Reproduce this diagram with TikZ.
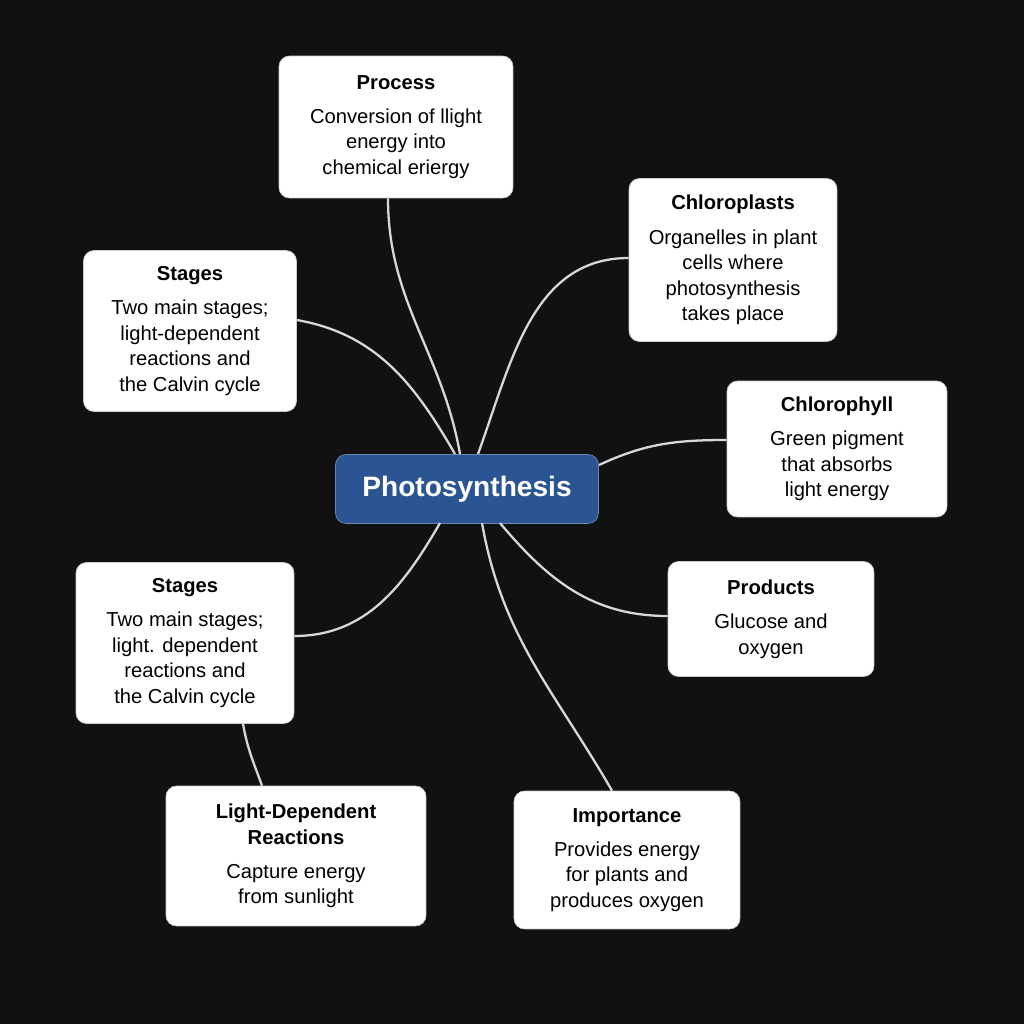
\documentclass[tikz,border=0pt]{standalone}
\usepackage{fontspec}
\setmainfont{Liberation Sans}
\usetikzlibrary{positioning}
\definecolor{bgdark}{HTML}{111111}
\definecolor{hubblue}{HTML}{2B5592}
\definecolor{linkgray}{HTML}{D8D8D8}

\begin{document}
\begin{tikzpicture}[
    x=0.02cm, y=-0.02cm,
    every node/.style={font=\fontsize{11.5}{14.5}\selectfont},
    topic/.style={rectangle, draw=gray!40, rounded corners=6pt, fill=white, align=center, inner sep=4pt},
    hub/.style={rectangle, draw=hubblue!70, rounded corners=6pt, fill=hubblue, text=white, font=\fontsize{16}{19}\selectfont\bfseries},
    link/.style={draw=linkgray, line width=1.3pt}
]
\fill[bgdark] (0,0) rectangle (1024,1024);

% Center
\node[hub, minimum width=5.26cm, minimum height=1.38cm] (photo) at (467,489) {Photosynthesis};

% Topics
\node[topic, minimum width=4.68cm, minimum height=2.84cm] (process) at (396,127)
  {\textbf{Process}\\[5pt]Conversion of llight\\energy into\\chemical eriergy};
\node[topic, minimum width=4.16cm, minimum height=3.26cm] (chloroplasts) at (733,260)
  {\textbf{Chloroplasts}\\[5pt]Organelles in plant\\cells where\\photosynthesis\\takes place};
\node[topic, minimum width=4.26cm, minimum height=3.22cm] (stagesa) at (190,331)
  {\textbf{Stages}\\[5pt]Two main stages;\\light-dependent\\reactions and\\the Calvin cycle};
\node[topic, minimum width=4.40cm, minimum height=2.72cm] (chlorophyll) at (837,449)
  {\textbf{Chlorophyll}\\[5pt]Green pigment\\that absorbs\\light energy};
\node[topic, minimum width=4.36cm, minimum height=3.22cm] (stagesb) at (185,643)
  {\textbf{Stages}\\[5pt]Two main stages;\\light. dependent\\reactions and\\the Calvin cycle};
\node[topic, minimum width=4.12cm, minimum height=2.30cm] (products) at (771,619)
  {\textbf{Products}\\[5pt]Glucose and\\oxygen};
\node[topic, minimum width=5.20cm, minimum height=2.80cm] (lightdep) at (296,856)
  {\textbf{Light-Dependent}\\\textbf{Reactions}\\[5pt]Capture energy\\from sunlight};
\node[topic, minimum width=4.52cm, minimum height=2.76cm] (importance) at (627,860)
  {\textbf{Importance}\\[5pt]Provides energy\\for plants and\\produces oxygen};

% Ends on the hub
\coordinate (hprocess) at (460,454);
\coordinate (hchloro) at (478,454);
\coordinate (hstagesa) at (455,454);
\coordinate (hchlorophyll) at (599,465);
\coordinate (hstagesb) at (440,523);
\coordinate (hproducts) at (500,523);
\coordinate (himportance) at (482,523);

% Links
\begin{scope}[on background layer/.style={}]
\draw[link] (process.south -| 388,0) to[out=-90, in=100] (hprocess);
\draw[link] (chloroplasts.west |- 0,258) to[out=180, in=70] (hchloro);
\draw[link] (stagesa.east |- 0,320) to[out=-10, in=120] (hstagesa);
\draw[link] (chlorophyll.west |- 0,440) to[out=180, in=25] (hchlorophyll);
\draw[link] (stagesb.east |- 0,636) to[out=0, in=-120] (hstagesb);
\draw[link] (products.west |- 0,616) to[out=180, in=-50] (hproducts);
\draw[link] (importance.north -| 612,0) to[out=120, in=-80] (himportance);
\draw[link] (lightdep.north -| 262,0) to[out=110, in=-80] (stagesb.south -| 243,0);
\end{scope}
\end{tikzpicture}
\end{document}
